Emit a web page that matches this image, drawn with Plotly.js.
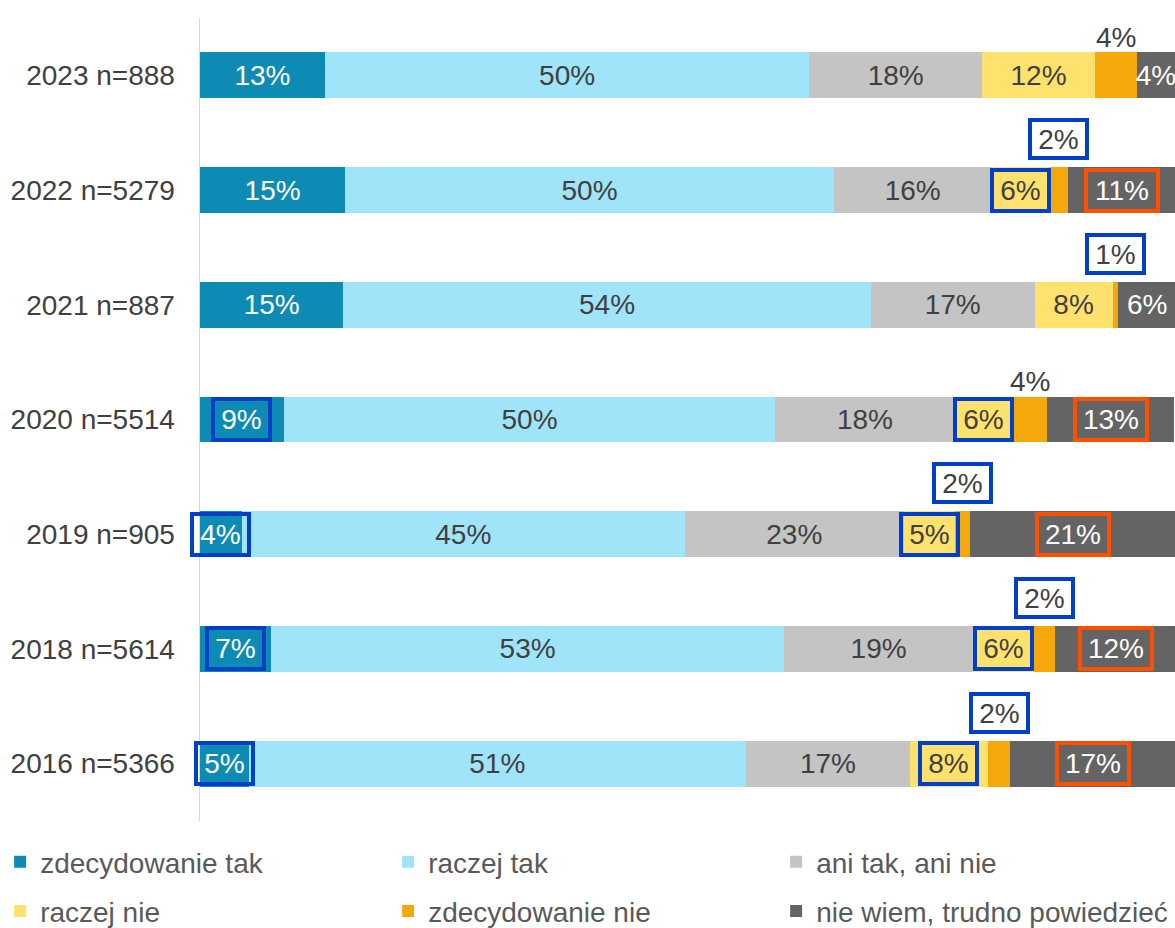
<!DOCTYPE html>
<html><head><meta charset="utf-8">
<script src="https://cdn.plot.ly/plotly-3.0.1.min.js"></script>
<style>html,body{margin:0;padding:0;background:#fff;overflow:hidden;width:1175px;height:928px}#chart{width:1175px;height:960px}</style>
</head><body><div id="chart"></div>
<script>
const categories = ["2023 n=888","2022 n=5279","2021 n=887","2020 n=5514","2019 n=905","2018 n=5614","2016 n=5366"];
const seriesNames = ["zdecydowanie tak","raczej tak","ani tak, ani nie","raczej nie","zdecydowanie nie","nie wiem, trudno powiedzieć"];
const zdecydowanieTak = [12.8,14.9,14.7,8.6,4.3,7.3,5.0];
const raczejTak       = [49.7,50.1,54.1,50.4,45.4,52.6,51.0];
const aniTakAniNie    = [17.7,16.2,16.8,18.4,22.5,19.4,16.8];
const raczejNie       = [11.6,5.9,8.0,5.9,5.2,6.2,8.0];
const zdecydowanieNie = [4.3,1.9,0.6,3.6,1.6,2.2,2.3];
const nieWiem         = [3.9,11.1,5.9,13.0,21.0,12.4,16.9];
// highlight flags per row
const boxTak      = [0,0,0,1,1,1,1];
const boxRaczejNie= [0,1,0,1,1,1,1];
const boxNieWiem  = [0,1,0,1,1,1,1];
const boxZdecNie  = [0,1,1,0,1,1,1];

const series = [zdecydowanieTak, raczejTak, aniTakAniNie, raczejNie, zdecydowanieNie, nieWiem];
const colors = ['#0E8BB5','#A0E4F9','#C4C4C4','#FFE16E','#F5A80A','#646464'];
const textColors = ['#ffffff','#404040','#404040','#404040','#404040','#ffffff'];
const BLUE = '#0040C8', ORANGE = '#FF5000';
const highlight = [boxTak, null, null, boxRaczejNie, null, boxNieWiem];
const highlightColor = [BLUE, null, null, BLUE, null, ORANGE];
const FS = 28;

const lbl = v => Math.round(v) + '%';
const boxW = s => Math.round((s.length - 1) * 15.6 + 25 + 10);

const traces = [];
const annotations = [];
series.forEach((vals, s) => {
  const text = vals.map((v, i) => {
    if (s === 4) return '';
    if (highlight[s] && highlight[s][i]) return '';
    return lbl(v);
  });
  const tr = {
    type: 'bar', orientation: 'h', name: seriesNames[s],
    y: categories, x: vals, text: text, texttemplate: '%{text}',
    textposition: 'inside', insidetextanchor: 'middle', textangle: 0,
    constraintext: 'none',
    textfont: {size: FS, color: textColors[s], family: 'Liberation Sans, Arial, sans-serif'},
    marker: {color: colors[s], line: {width: 0}},
    hoverinfo: 'skip',
    legend: s < 3 ? 'legend' : 'legend2'
  };
  if (s === 2 || s === 5) tr.legendwidth = 350;
  traces.push(tr);
});

categories.forEach((cat, i) => {
  let start = 0;
  series.forEach((vals, s) => {
    const v = vals[i];
    const c = start + v / 2;
    start += v;
    const t = lbl(v);
    if (highlight[s] && highlight[s][i]) {
      annotations.push({
        x: c, y: cat, xref: 'x', yref: 'y', text: t, showarrow: false,
        font: {size: FS, color: textColors[s]},
        bordercolor: highlightColor[s], borderwidth: 4, borderpad: 1,
        width: boxW(t), height: 35
      });
    }
    if (s === 4) {
      if (boxZdecNie[i]) {
        annotations.push({
          x: c, y: cat, xref: 'x', yref: 'y', text: t, showarrow: false, yshift: 51,
          font: {size: FS, color: '#404040'}, bgcolor: '#ffffff',
          bordercolor: BLUE, borderwidth: 4, borderpad: 1,
          width: boxW(t), height: 32
        });
      } else {
        annotations.push({
          x: c, y: cat, xref: 'x', yref: 'y', text: t, showarrow: false, yshift: 38,
          font: {size: FS, color: '#404040'}
        });
      }
    }
  });
});

const legendBase = {orientation: 'h', x: -0.205, xanchor: 'left',
  yanchor: 'middle', entrywidth: 343, entrywidthmode: 'pixels', traceorder: 'normal',
  font: {size: FS, color: '#595959'}, bgcolor: 'rgba(0,0,0,0)', borderwidth: 0};

const layout = {
  width: 1175, height: 960,
  margin: {l: 200, r: 0, t: 18, b: 139, pad: 0},
  paper_bgcolor: '#ffffff', plot_bgcolor: '#ffffff',
  barmode: 'stack', bargap: 0.6,
  font: {family: 'Liberation Sans, Arial, sans-serif', size: FS, color: '#404040'},
  xaxis: {range: [0, 100], visible: false, fixedrange: true},
  yaxis: {type: 'category', categoryorder: 'array', categoryarray: categories,
          range: [categories.length - 0.5, -0.5], autorange: false,
          showline: true, linecolor: '#d9d9d9', linewidth: 1.5,
          ticks: '', ticklabelstandoff: 18, showgrid: false, zeroline: false,
          tickfont: {size: FS, color: '#404040'}},
  showlegend: true,
  legend: Object.assign({}, legendBase, {y: -0.051}),
  legend2: Object.assign({}, legendBase, {y: -0.1125}),
  annotations: annotations
};

Plotly.newPlot('chart', traces, layout, {displayModeBar: false, staticPlot: true});
</script>
</body></html>
